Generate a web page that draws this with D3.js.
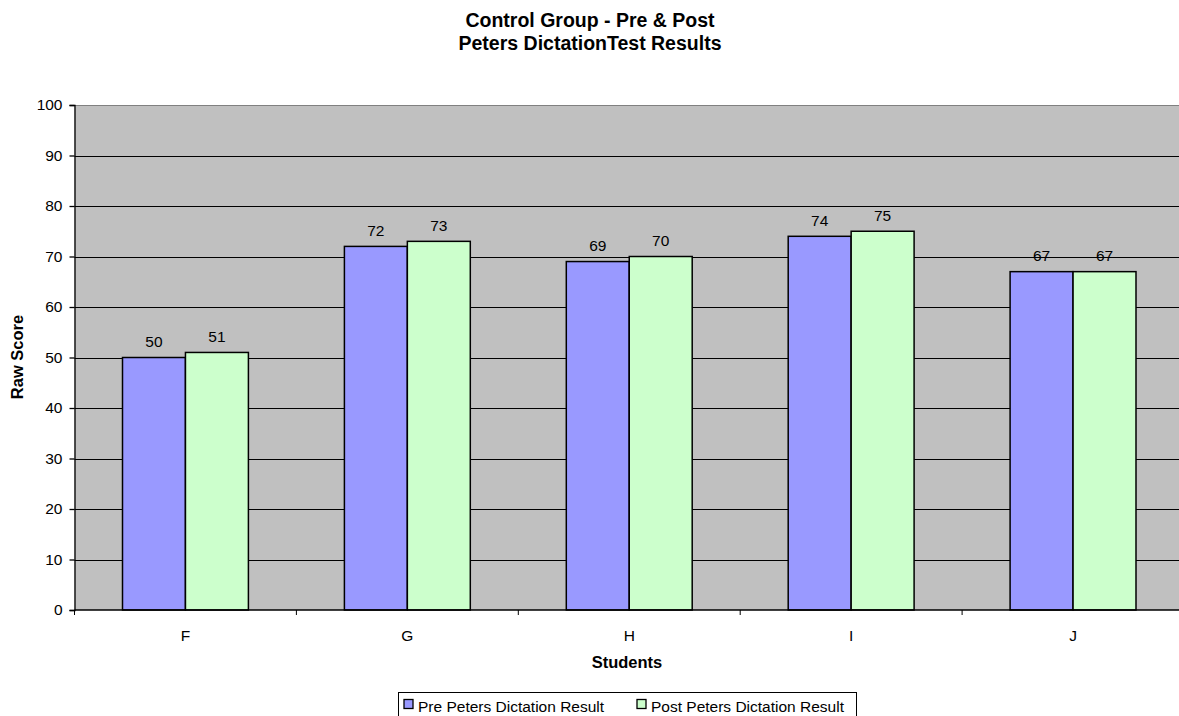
<!DOCTYPE html>
<html>
<head>
<meta charset="utf-8">
<script src="https://cdn.jsdelivr.net/npm/d3@7"></script>
<style>
  body { margin: 0; background: #fff; }
  text { font-family: "Liberation Sans", Arial, sans-serif; }
</style>
</head>
<body>
<div id="container"></div>
<script>
var width = 1179;
var height = 716;

// chart data
var students = ["F", "G", "H", "I", "J"];
var seriesNames = ["Pre Peters Dictation Result", "Post Peters Dictation Result"];
var preScores = [50, 72, 69, 74, 67];
var postScores = [51, 73, 70, 75, 67];
var yTicks = [0, 10, 20, 30, 40, 50, 60, 70, 80, 90, 100];
var colors = ["#9999ff", "#ccffcc"];

var plot = {left: 74.5, top: 105, right: 1184, bottom: 610};

var svg = d3.select("div#container").append("svg")
    .attr("width", width)
    .attr("height", height);

var x = d3.scaleBand().domain(students).range([plot.left, plot.right]).paddingInner(0).paddingOuter(0);
var x1 = d3.scaleBand().domain([0, 1]).range([48, x.bandwidth() - 48]);
var y = d3.scaleLinear().domain([0, 100]).range([plot.bottom, plot.top]);

// plot background
svg.append("rect")
    .attr("x", plot.left).attr("y", plot.top)
    .attr("width", plot.right - plot.left).attr("height", plot.bottom - plot.top)
    .attr("fill", "#c0c0c0");

// gridlines
svg.selectAll("line.grid")
    .data(yTicks.filter(function(d) { return d > 0 && d < 100; }))
    .enter().append("line")
    .attr("class", "grid")
    .attr("x1", plot.left).attr("x2", plot.right)
    .attr("y1", function(d) { return Math.round(y(d)) + 0.5; })
    .attr("y2", function(d) { return Math.round(y(d)) + 0.5; })
    .attr("stroke", "#000").attr("stroke-width", 1);

// top border
svg.append("line")
    .attr("x1", plot.left).attr("x2", plot.right)
    .attr("y1", plot.top + 0.5).attr("y2", plot.top + 0.5)
    .attr("stroke", "#808080");

// bars
var rows = students.map(function(s, i) { return {name: s, values: [preScores[i], postScores[i]]}; });
var groups = svg.selectAll("g.student")
    .data(rows)
    .enter().append("g")
    .attr("class", "student")
    .attr("transform", function(d) { return "translate(" + x(d.name) + ",0)"; });

groups.selectAll("rect")
    .data(function(d) { return d.values.map(function(v, i) { return {i: i, v: v}; }); })
    .enter().append("rect")
    .attr("x", function(d) { return x1(d.i); })
    .attr("y", function(d) { return y(d.v); })
    .attr("width", x1.bandwidth())
    .attr("height", function(d) { return y(0) - y(d.v); })
    .attr("fill", function(d) { return colors[d.i]; })
    .attr("stroke", "#000").attr("stroke-width", 1.5);

groups.selectAll("text")
    .data(function(d) { return d.values.map(function(v, i) { return {i: i, v: v}; }); })
    .enter().append("text")
    .attr("x", function(d) { return x1(d.i) + x1.bandwidth() / 2; })
    .attr("y", function(d) { return y(d.v) - 10.5; })
    .attr("text-anchor", "middle")
    .attr("font-size", "15.5px")
    .text(function(d) { return d.v; });

// y axis
var yAxis = svg.append("g")
    .attr("transform", "translate(" + plot.left + ",0)")
    .call(d3.axisLeft(y).tickValues(yTicks).tickSize(5).tickPadding(7));
yAxis.selectAll("text").attr("font-size", "15.5px").attr("fill", "#000")
    .style("font-family", "'Liberation Sans', Arial, sans-serif");
yAxis.selectAll("line, path").attr("stroke", "#000").attr("stroke-width", 1.3);

// x axis
var xAxis = svg.append("g").attr("transform", "translate(0," + plot.bottom + ")");
xAxis.append("line")
    .attr("x1", plot.left).attr("x2", plot.right)
    .attr("stroke", "#000").attr("stroke-width", 1.5);
xAxis.selectAll("line.tick")
    .data(students.concat(["end"]))
    .enter().append("line")
    .attr("class", "tick")
    .attr("x1", function(d, i) { return plot.left + i * x.bandwidth(); })
    .attr("x2", function(d, i) { return plot.left + i * x.bandwidth(); })
    .attr("y1", 0).attr("y2", 5)
    .attr("stroke", "#000");
xAxis.selectAll("text")
    .data(students)
    .enter().append("text")
    .attr("x", function(d) { return x(d) + x.bandwidth() / 2; })
    .attr("y", 30.5)
    .attr("text-anchor", "middle")
    .attr("font-size", "15.5px")
    .text(function(d) { return d; });

// titles
svg.append("text").attr("x", 590).attr("y", 27).attr("text-anchor", "middle")
    .attr("font-size", "19.5px").attr("font-weight", "bold").text("Control Group - Pre & Post");
svg.append("text").attr("x", 590).attr("y", 50).attr("text-anchor", "middle")
    .attr("font-size", "19.5px").attr("font-weight", "bold").text("Peters DictationTest Results");

svg.append("text").attr("x", 627).attr("y", 668).attr("text-anchor", "middle")
    .attr("font-size", "16.5px").attr("font-weight", "bold").text("Students");

svg.append("text")
    .attr("transform", "translate(23,357) rotate(-90)")
    .attr("text-anchor", "middle")
    .attr("font-size", "16.5px").attr("font-weight", "bold").text("Raw Score");

// legend
var legend = svg.append("g");
legend.append("rect")
    .attr("x", 398.5).attr("y", 692.5).attr("width", 458).attr("height", 30)
    .attr("fill", "#fff").attr("stroke", "#000");
var legendX = [404, 637];
seriesNames.forEach(function(name, i) {
    legend.append("rect")
        .attr("x", legendX[i]).attr("y", 699.5).attr("width", 9).attr("height", 9)
        .attr("fill", colors[i]).attr("stroke", "#000").attr("stroke-width", 1.3);
    legend.append("text")
        .attr("x", legendX[i] + 14).attr("y", 712)
        .attr("font-size", "15.5px").text(name);
});
</script>
</body>
</html>
